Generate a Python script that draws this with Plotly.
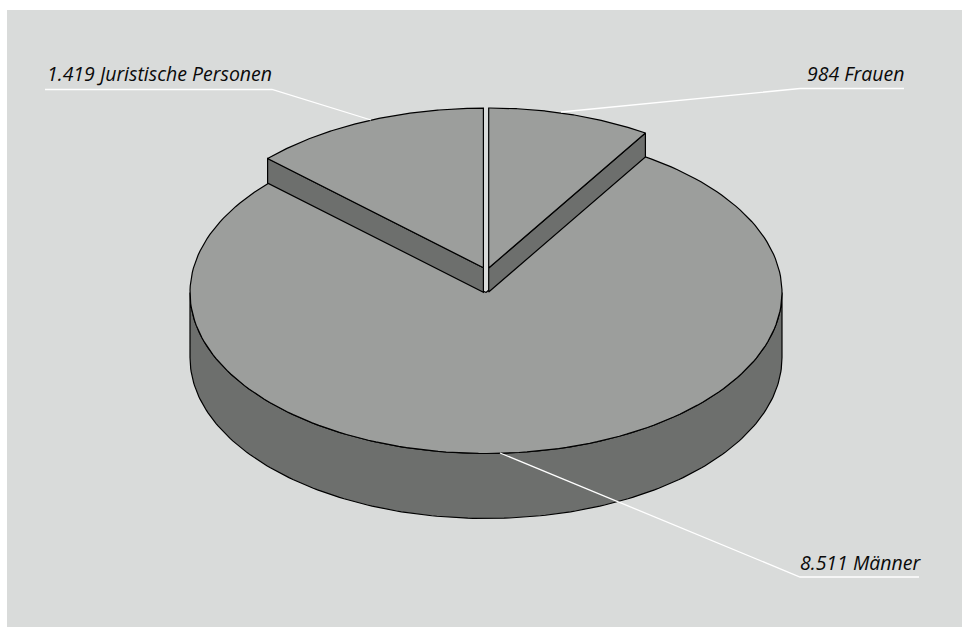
import numpy as np
import plotly.graph_objects as go

# Shareholder groups and their counts
groups = ["984 Frauen", "8.511 Männer", "1.419 Juristische Personen"]
counts = [984, 8511, 1419]

PANEL = "#d9dbda"
TOP = "#9c9e9c"
SIDE = "#6d6f6d"
EDGE = "#000000"

# Sweep angles, clockwise from twelve o'clock
total = sum(counts)
bounds = np.cumsum([0] + counts) / total * 2 * np.pi
start = dict(zip(groups, bounds[:-1]))
stop = dict(zip(groups, bounds[1:]))

# Projected geometry of each slice: apex x, apex y of top face, radii, thickness
geom = {
    "984 Frauen": dict(cx=488.7, cy=268.0, rx=292.0, ry=160.0, depth=24.0),
    "8.511 Männer": dict(cx=486.0, cy=292.5, rx=296.0, ry=161.0, depth=65.0),
    "1.419 Juristische Personen": dict(cx=483.4, cy=267.7, rx=296.0, ry=159.5, depth=24.5),
}


def rim(g, a0, a1, n=180, drop=0.0):
    t = np.linspace(a0, a1, n)
    return g["cx"] + g["rx"] * np.sin(t), g["cy"] - g["ry"] * np.cos(t) + drop


fig = go.Figure()


def poly(x, y, fill):
    fig.add_trace(go.Scatter(
        x=np.append(x, x[0]), y=np.append(y, y[0]), mode="lines", fill="toself",
        fillcolor=fill, line=dict(color=EDGE, width=1.2), hoverinfo="skip", showlegend=False,
    ))


# Large slice: outer wall across the front, then the top face
m = geom["8.511 Männer"]
ux, uy = rim(m, np.pi / 2, 3 * np.pi / 2)
lx, ly = rim(m, 3 * np.pi / 2, np.pi / 2, drop=m["depth"])
poly(np.r_[ux, lx], np.r_[uy, ly], SIDE)
tx, ty = rim(m, start["8.511 Männer"], stop["8.511 Männer"])
poly(np.r_[m["cx"], tx], np.r_[m["cy"], ty], TOP)

# Raised slices: wall along the cut edge facing the viewer, then the top face
for name, edge_angle in (("984 Frauen", stop["984 Frauen"]),
                         ("1.419 Juristische Personen", start["1.419 Juristische Personen"])):
    g = geom[name]
    ex, ey = rim(g, edge_angle, edge_angle, n=1)
    wall_x = np.array([g["cx"], ex[0], ex[0], g["cx"]])
    wall_y = np.array([g["cy"], ey[0], ey[0] + g["depth"], g["cy"] + g["depth"]])
    poly(wall_x, wall_y, SIDE)
    ax, ay = rim(g, start[name], stop[name])
    poly(np.r_[g["cx"], ax], np.r_[g["cy"], ay], TOP)

# Leader lines, running from the label underline to the slice
leader_x = [[904, 800, 561], [919, 800, 500], [45, 272, 371]]
leader_y = [[88.5, 88.5, 112], [577, 577, 453], [89.5, 89.5, 120]]
label_x = [907, 923, 45]
label_y = [73, 562, 73]
label_anchor = ["right", "right", "left"]

for i, name in enumerate(groups):
    fig.add_trace(go.Scatter(
        x=leader_x[i], y=leader_y[i], mode="lines",
        line=dict(color="#ffffff", width=1.3), hoverinfo="skip", showlegend=False,
    ))
    fig.add_annotation(
        x=label_x[i], y=label_y[i], text=f"<i>{name}</i>", showarrow=False,
        xanchor=label_anchor[i], yanchor="middle",
        font=dict(family="Open Sans", size=19.5, color="#0a0a0a"),
    )

fig.update_layout(
    width=962, height=627, margin=dict(l=0, r=0, t=0, b=0),
    paper_bgcolor="#ffffff", plot_bgcolor="#ffffff", showlegend=False,
    xaxis=dict(range=[0, 962], visible=False, fixedrange=True),
    yaxis=dict(range=[627, 0], visible=False, fixedrange=True),
    shapes=[dict(type="rect", layer="below", x0=7, x1=962, y0=10, y1=627,
                 fillcolor=PANEL, line=dict(width=0))],
)

fig.write_html("out.html", config=dict(displayModeBar=False))
